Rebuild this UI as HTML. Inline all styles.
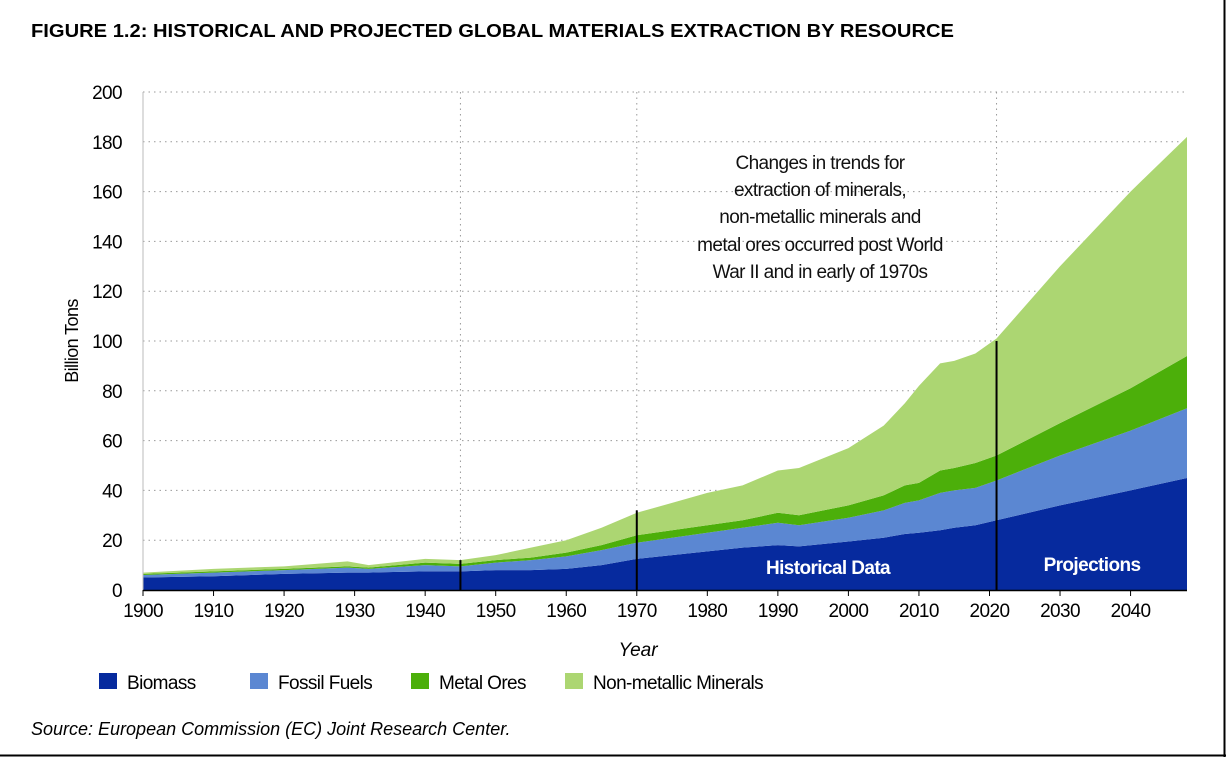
<!DOCTYPE html>
<html><head><meta charset="utf-8"><style>
html,body{margin:0;padding:0;background:#fff;}
svg text{font-family:"Liberation Sans",sans-serif;}
</style></head><body>
<svg id="chart" width="1226" height="757" viewBox="0 0 1226 757" xmlns="http://www.w3.org/2000/svg">
<text x="31" y="37" font-size="18" font-weight="bold" fill="#000" textLength="923" lengthAdjust="spacingAndGlyphs">FIGURE 1.2: HISTORICAL AND PROJECTED GLOBAL MATERIALS EXTRACTION BY RESOURCE</text>
<g id="grid"></g>
<g id="areas"></g>
<g id="marks"></g>
<g id="axes"></g>
<g font-size="19" fill="#111" text-anchor="middle" letter-spacing="-0.6">
<text x="820" y="169">Changes in trends for</text>
<text x="820" y="196">extraction of minerals,</text>
<text x="820" y="223">non-metallic minerals and</text>
<text x="820" y="251">metal ores occurred post World</text>
<text x="820" y="278">War II and in early of 1970s</text>
</g>
<text x="828" y="574" font-size="19" font-weight="bold" fill="#fff" text-anchor="middle" letter-spacing="-0.6">Historical Data</text>
<text x="1092" y="571" font-size="19" font-weight="bold" fill="#fff" text-anchor="middle" letter-spacing="-0.6">Projections</text>
<text x="638" y="656" font-size="19" font-style="italic" text-anchor="middle">Year</text>
<text transform="translate(78,341) rotate(-90)" font-size="18" text-anchor="middle" letter-spacing="-0.6">Billion Tons</text>
<g font-size="19" letter-spacing="-0.6">
<rect x="99" y="673" width="18" height="16" fill="#062a9e"/>
<text x="127" y="689">Biomass</text>
<rect x="250" y="673" width="18" height="16" fill="#5b87d2"/>
<text x="278" y="689">Fossil Fuels</text>
<rect x="411" y="673" width="18" height="16" fill="#4caf0a"/>
<text x="439" y="689">Metal Ores</text>
<rect x="565" y="673" width="18" height="16" fill="#acd672"/>
<text x="593" y="689">Non-metallic Minerals</text>
</g>
<text x="31" y="735" font-size="18" font-style="italic">Source: European Commission (EC) Joint Research Center.</text>
<line x1="0" y1="755.5" x2="1226" y2="755.5" stroke="#000" stroke-width="2"/>
<line x1="1224.5" y1="0" x2="1224.5" y2="757" stroke="#000" stroke-width="2"/>
</svg>
<script>
const years =   [1900,1910,1920,1929,1932,1940,1945,1950,1955,1960,1965,1970,1975,1980,1985,1990,1993,2000,2005,2008,2010,2013,2015,2018,2021,2030,2040,2048];
const biomass = [5,5.5,6.5,7,7,7.5,7.5,8,8,8.5,10,12.5,14,15.5,17,18,17.5,19.5,21,22.5,23,24,25,26,28,34,40,45];
const fossilFuels = [1,1.5,1.5,2,1.5,2.5,2,3,4,5,6,6.5,7,7.5,8,9,8.5,9.5,11,12.5,13,15,15,15,16,20,24,28];
const metalOres = [0.5,0.5,0.5,0.5,0.5,1,1,1,1,1.5,2,3,3,3,3,4,4,5,6,7,7,9,9,10,10,13,17,21];
const nonMetallic = [0.5,1,1,2,1,1.5,1.5,2,4,5,7,9,11,13,14,17,19,23,28,33,39,43,43,44,47,63,79,88];
const yTicks = [0,20,40,60,80,100,120,140,160,180,200];
const xTicks = [1900,1910,1920,1930,1940,1950,1960,1970,1980,1990,2000,2010,2020,2030,2040];
const markerYears = [1945,1970,2021];
const markerTops = [12,32,100];

const X0=143,X1=1187,Y0=590,Y1=92;
const xs = y => X0 + (y-1900)/(2048-1900)*(X1-X0);
const ys = v => Y0 - v/200*(Y0-Y1);
const NS="http://www.w3.org/2000/svg";
function mk(tag, parent, attrs){const e=document.createElementNS(NS,tag);for(const k in attrs)e.setAttribute(k,attrs[k]);parent.appendChild(e);return e;}
const grid=document.getElementById('grid'), areas=document.getElementById('areas'), marks=document.getElementById('marks'), axes=document.getElementById('axes');

yTicks.forEach(t=>{
  if(t>0){const l=mk('line',grid,{x1:X0,x2:X1,y1:ys(t),y2:ys(t),stroke:'#999','stroke-dasharray':'1.5,4','stroke-width':1});
  
  }
  const tx=mk('text',axes,{x:122,y:ys(t)+7,'font-size':19,'text-anchor':'end','letter-spacing':'-0.6'});
  tx.textContent=t;
  
  
});
markerYears.forEach(y=>{
  const l=mk('line',grid,{x1:xs(y),x2:xs(y),y1:Y1,y2:Y0,stroke:'#999','stroke-dasharray':'1.5,4'});
  
  
});

const series=[biomass,fossilFuels,metalOres,nonMetallic];
const colors=['#062a9e','#5b87d2','#4caf0a','#acd672'];
const names=['area-biomass','area-fossil-fuels','area-metal-ores','area-non-metallic-minerals'];
let base=years.map(()=>0);
series.forEach((s,i)=>{
  const top=base.map((b,j)=>b+s[j]);
  let d='M'+years.map((y,j)=>xs(y)+','+ys(top[j])).join(' L');
  for(let j=years.length-1;j>=0;j--) d+=' L'+xs(years[j])+','+ys(base[j]);
  d+='Z';
  const p=mk('path',areas,{d:d,fill:colors[i]});
  
  
  base=top;
});

markerYears.forEach((y,i)=>{
  const l=mk('line',marks,{x1:xs(y),x2:xs(y),y1:ys(markerTops[i]),y2:Y0,stroke:'#000','stroke-width':2});
  
  
});

const ya=mk('line',axes,{x1:X0,x2:X0,y1:Y1,y2:Y0,stroke:'#bbb'});


const xa=mk('line',axes,{x1:X0,x2:X1,y1:Y0+0.5,y2:Y0+0.5,stroke:'#000','stroke-width':1.5});


xTicks.forEach(t=>{
  const l=mk('line',axes,{x1:xs(t),x2:xs(t),y1:Y0,y2:Y0+6,stroke:'#000'});
  
  
  const tx=mk('text',axes,{x:xs(t),y:Y0+27,'font-size':19,'text-anchor':'middle','letter-spacing':'-0.6'});
  tx.textContent=t;
  
  
});
</script>
</body></html>
